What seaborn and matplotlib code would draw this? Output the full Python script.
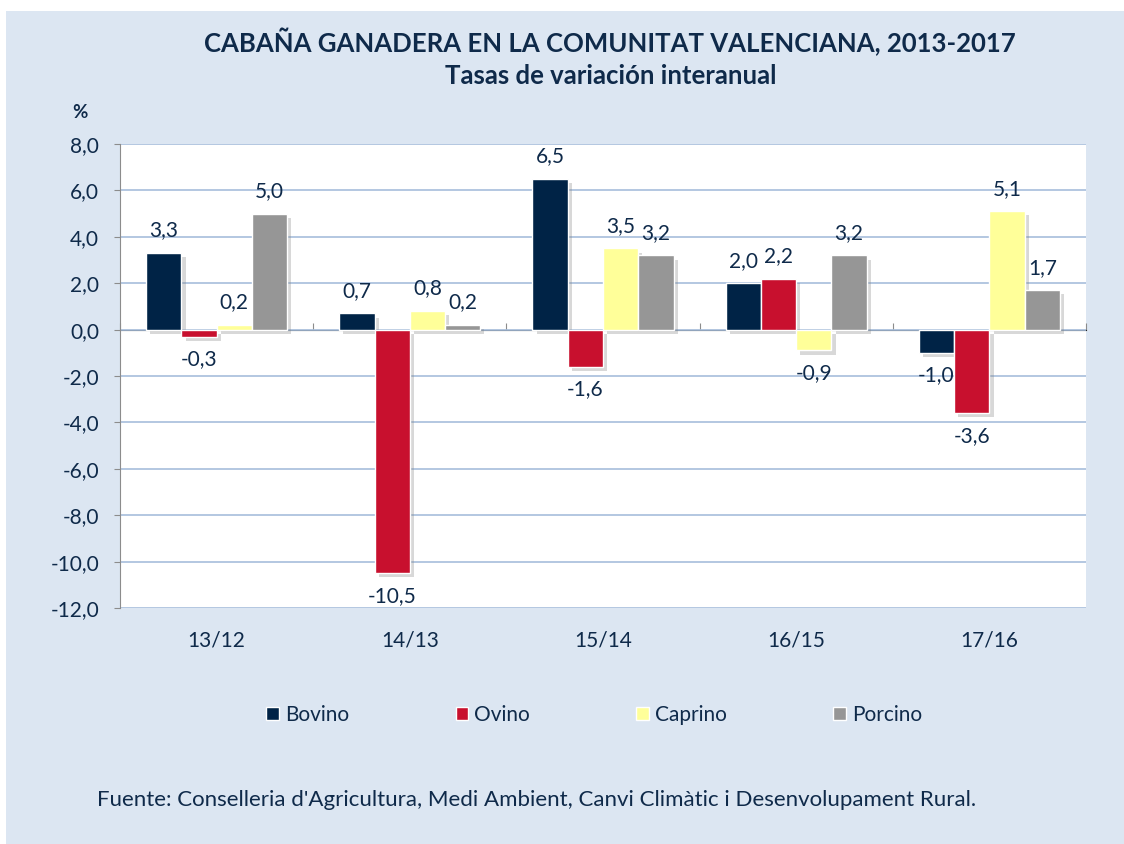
import pandas as pd
import matplotlib.pyplot as plt
import matplotlib.patheffects as pe
from matplotlib.patches import Rectangle
from matplotlib.ticker import FuncFormatter
import seaborn as sns

# Data
periodos = ['13/12', '14/13', '15/14', '16/15', '17/16']
especies = ['Bovino', 'Ovino', 'Caprino', 'Porcino']
bovino = [3.3, 0.7, 6.5, 2.0, -1.0]
ovino = [-0.3, -10.5, -1.6, 2.2, -3.6]
caprino = [0.2, 0.8, 3.5, -0.9, 5.1]
porcino = [5.0, 0.2, 3.2, 3.2, 1.7]
colores = ['#002346', '#c8102e', '#ffff99', '#969696']

df = pd.DataFrame({'periodo': periodos * 4,
                   'especie': sum([[e] * 5 for e in especies], []),
                   'valor': bovino + ovino + caprino + porcino})

sns.set_style('white')
plt.rcParams['font.family'] = ['Lato', 'DejaVu Sans']
txt = '#0f2a4a'

fig = plt.figure(figsize=(11.24, 8.44), dpi=100)
fig.patch.set_facecolor('white')
fig.patches.append(Rectangle((6 / 1124, 0), 1, 1 - 11 / 844, transform=fig.transFigure,
                             facecolor='#dce6f2', edgecolor='none', zorder=-10))

ax = fig.add_axes([120 / 1124, 1 - 608 / 844, (1086 - 120) / 1124, (608 - 144) / 844])
ax.set_facecolor('white')

sns.barplot(data=df, x='periodo', y='valor', hue='especie', palette=colores,
            width=0.73, gap=0, saturation=1, ax=ax, legend=True, zorder=3)

shadow = [pe.SimplePatchShadow(offset=(3, -3), shadow_rgbFace='#808080', alpha=0.3), pe.Normal()]
for cont in ax.containers:
    for bar in cont:
        bar.set_path_effects(shadow)
    ax.bar_label(cont, labels=[f'{v:.1f}'.replace('.', ',') for v in cont.datavalues],
                 padding=9, fontsize=15, color=txt)

ax.set_xlim(-0.5, 4.5)
ax.set_ylim(-12, 8)
ax.set_yticks(range(-12, 9, 2))
ax.yaxis.set_major_formatter(FuncFormatter(lambda v, p: f'{v:.1f}'.replace('.', ',')))
ax.grid(axis='y', color='#a7bedb', linewidth=1.2, zorder=0)
ax.set_axisbelow(True)
for s in ['top', 'right', 'bottom']:
    ax.spines[s].set_visible(False)
ax.spines['left'].set_color('#8c8c8c')
ax.tick_params(axis='y', left=True, length=4, color='#8c8c8c', labelsize=15, labelcolor=txt, pad=11)
ax.tick_params(axis='x', bottom=False, labelsize=15, labelcolor=txt, pad=13)
ax.set_xlabel('')
ax.set_ylabel('')

# category axis drawn at zero
sec = ax.secondary_xaxis(12 / 20)
sec.set_xticks([i + 0.5 for i in range(-1, 5)])
sec.set_xticklabels([])
sec.tick_params(direction='out', length=5, color='#8c8c8c')
sec.spines['bottom'].set_color('#8c8c8c')
sec.spines['bottom'].set_linewidth(1.3)

handles, labels = ax.get_legend_handles_labels()
ax.legend(handles, labels, loc='center', bbox_to_anchor=(0.491, -0.23), ncol=4, frameon=False,
          fontsize=15, labelcolor=txt, handlelength=0.6, handleheight=0.6, handletextpad=0.3,
          columnspacing=5.1)

fig.text(0.543, 1 - 42 / 844, 'CABAÑA GANADERA EN LA COMUNITAT VALENCIANA, 2013-2017',
         ha='center', va='center', fontsize=18.5, fontweight='bold', color=txt)
fig.text(0.543, 1 - 76 / 844, 'Tasas de variación interanual',
         ha='center', va='center', fontsize=18.5, fontweight='bold', color=txt)
fig.text(80 / 1124, 1 - 113 / 844, '%', ha='center', va='center', fontsize=13.5,
         fontweight='bold', color=txt)
fig.text(97 / 1124, 1 - 800 / 844,
         "Fuente: Conselleria d'Agricultura, Medi Ambient, Canvi Climàtic i Desenvolupament Rural.",
         ha='left', va='center', fontsize=16, color=txt)

fig.savefig('out.png', dpi=100)
